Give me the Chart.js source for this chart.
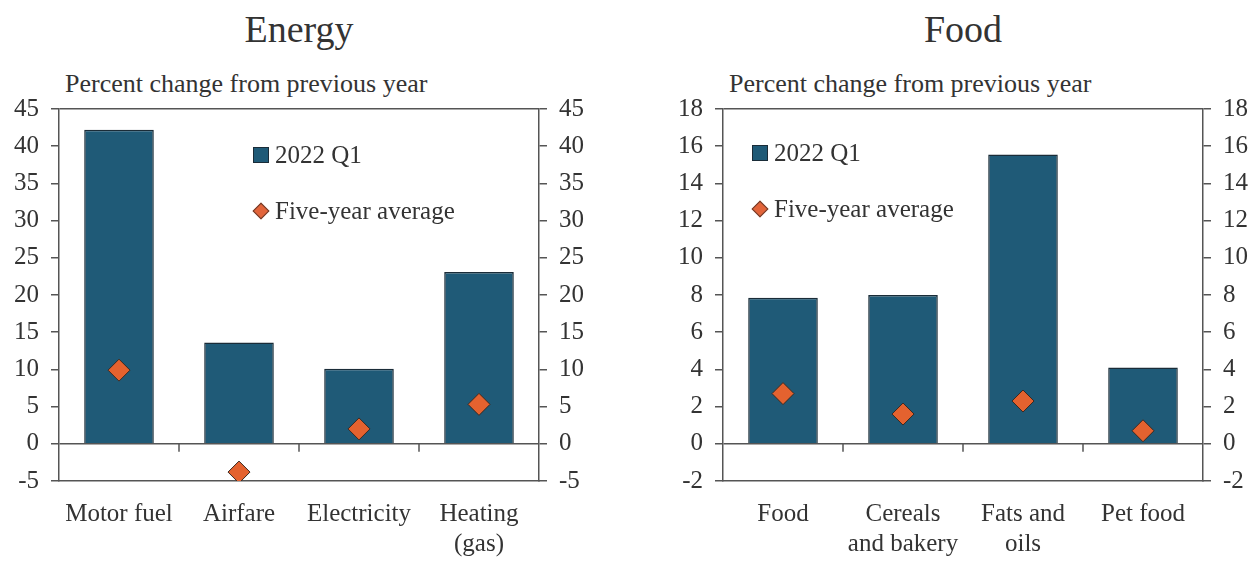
<!DOCTYPE html>
<html>
<head>
<meta charset="utf-8">
<script src="https://cdn.jsdelivr.net/npm/chart.js@4.4.0/dist/chart.umd.min.js"></script>
<style>
  body { margin: 0; background: #fff; width: 1260px; height: 561px; position: relative; overflow: hidden;
         font-family: "Liberation Serif", "DejaVu Serif", serif; color: #333; }
  .title { position: absolute; top: 7px; font-size: 38px; text-align: center; width: 480px; }
  .subtitle { position: absolute; top: 69px; font-size: 26px; white-space: nowrap; }
  .panel { position: absolute; top: 82px; height: 479px; }
  .legend { position: absolute; font-size: 25px; white-space: nowrap; }
  .legend .row { position: relative; height: 30px; margin-bottom: 26px; padding-left: 22px; line-height: 30px; }
  .legend .sq { position: absolute; left: 0; top: 7px; width: 14px; height: 14px; background: #1f5a77; border: 1px solid #1a2c38; }
  .legend .dm { position: absolute; left: 2px; top: 9px; width: 10px; height: 10px; background: #e2643a; border: 1px solid #6a3a28; transform: rotate(45deg); }
</style>
</head>
<body>
  <div class="title" style="left:59px">Energy</div>
  <div class="subtitle" style="left:65px">Percent change from previous year</div>
  <div class="panel" style="left:0; width:620px"><canvas id="chartEnergy"></canvas></div>
  <div class="legend" style="left:253px; top:140px">
    <div class="row"><span class="sq"></span>2022 Q1</div>
    <div class="row"><span class="dm"></span>Five-year average</div>
  </div>

  <div class="title" style="left:723px">Food</div>
  <div class="subtitle" style="left:729px">Percent change from previous year</div>
  <div class="panel" style="left:664px; width:596px"><canvas id="chartFood"></canvas></div>
  <div class="legend" style="left:752px; top:138px">
    <div class="row"><span class="sq"></span>2022 Q1</div>
    <div class="row"><span class="dm"></span>Five-year average</div>
  </div>

<script>
const energyLabels = ["Motor fuel", "Airfare", "Electricity", ["Heating", "(gas)"]];
const energyQ1 = [42.2, 13.6, 10.1, 23.1];
const energyAvg = [9.9, -3.8, 2.0, 5.3];
const energyTicks = { min: -5, max: 45, step: 5 };

const foodLabels = ["Food", ["Cereals", "and bakery"], ["Fats and", "oils"], "Pet food"];
const foodQ1 = [7.85, 8.0, 15.55, 4.1];
const foodAvg = [2.7, 1.6, 2.3, 0.7];
const foodTicks = { min: -2, max: 18, step: 2 };

const AXIS = "#555";
const TEXT = "#333";
const FONT = { family: "'Liberation Serif', 'DejaVu Serif', serif", size: 25 };

// short ticks hanging from the zero line between categories
const zeroTicks = {
  id: "zeroTicks",
  afterDatasetsDraw(chart) {
    const x = chart.scales.x, y = chart.scales.y;
    const y0 = y.getPixelForValue(0);
    const ctx = chart.ctx;
    ctx.save();
    ctx.strokeStyle = AXIS;
    ctx.lineWidth = 1.5;
    for (let i = 0; i < x.ticks.length - 1; i++) {
      const px = (x.getPixelForValue(i) + x.getPixelForValue(i + 1)) / 2;
      ctx.beginPath();
      ctx.moveTo(px, y0);
      ctx.lineTo(px, y0 + 8);
      ctx.stroke();
    }
    ctx.restore();
  }
};

function yAxis(t, side, width) {
  return {
    type: "linear",
    position: side,
    min: t.min,
    max: t.max,
    afterFit: s => { s.width = width; },
    ticks: { stepSize: t.step, color: TEXT, font: FONT, padding: 12, autoSkip: false },
    border: { display: true, color: AXIS, width: 1.5 },
    grid: {
      drawOnChartArea: side === "left",
      color: c => (c.tick && (c.tick.value === 0 || c.tick.value === t.max)) ? AXIS : "rgba(0,0,0,0)",
      lineWidth: 1.5,
      tickColor: AXIS,
      tickLength: 8
    }
  };
}

function makeChart(id, labels, q1, avg, t, rightWidth) {
  return new Chart(document.getElementById(id), {
    type: "bar",
    data: {
      labels,
      datasets: [
        {
          type: "line",
          label: "Five-year average",
          data: avg,
          showLine: false,
          pointStyle: "rectRot",
          pointRadius: 11,
          pointBackgroundColor: "#e4622f",
          pointBorderColor: "#3b2a22",
          pointBorderWidth: 1,
          order: 0
        },
        {
          label: "2022 Q1",
          data: q1,
          backgroundColor: "#1f5a77",
          borderColor: "#1a2c38",
          borderWidth: 1.5,
          categoryPercentage: 0.58,
          barPercentage: 1,
          order: 1
        }
      ]
    },
    options: {
      responsive: true,
      maintainAspectRatio: false,
      animation: false,
      layout: { padding: { top: 12 } },
      plugins: { legend: { display: false }, tooltip: { enabled: false } },
      scales: {
        x: {
          afterFit: s => { s.height = 80; },
          grid: { display: false, drawTicks: false },
          border: { display: true, color: AXIS, width: 1.5 },
          ticks: { color: TEXT, font: { ...FONT, lineHeight: 1.2 }, padding: 18, maxRotation: 0, autoSkip: false }
        },
        y: yAxis(t, "left", 59),
        y2: yAxis(t, "right", rightWidth)
      }
    },
    plugins: [zeroTicks]
  });
}

makeChart("chartEnergy", energyLabels, energyQ1, energyAvg, energyTicks, 81);
makeChart("chartFood", foodLabels, foodQ1, foodAvg, foodTicks, 57);
</script>
</body>
</html>
